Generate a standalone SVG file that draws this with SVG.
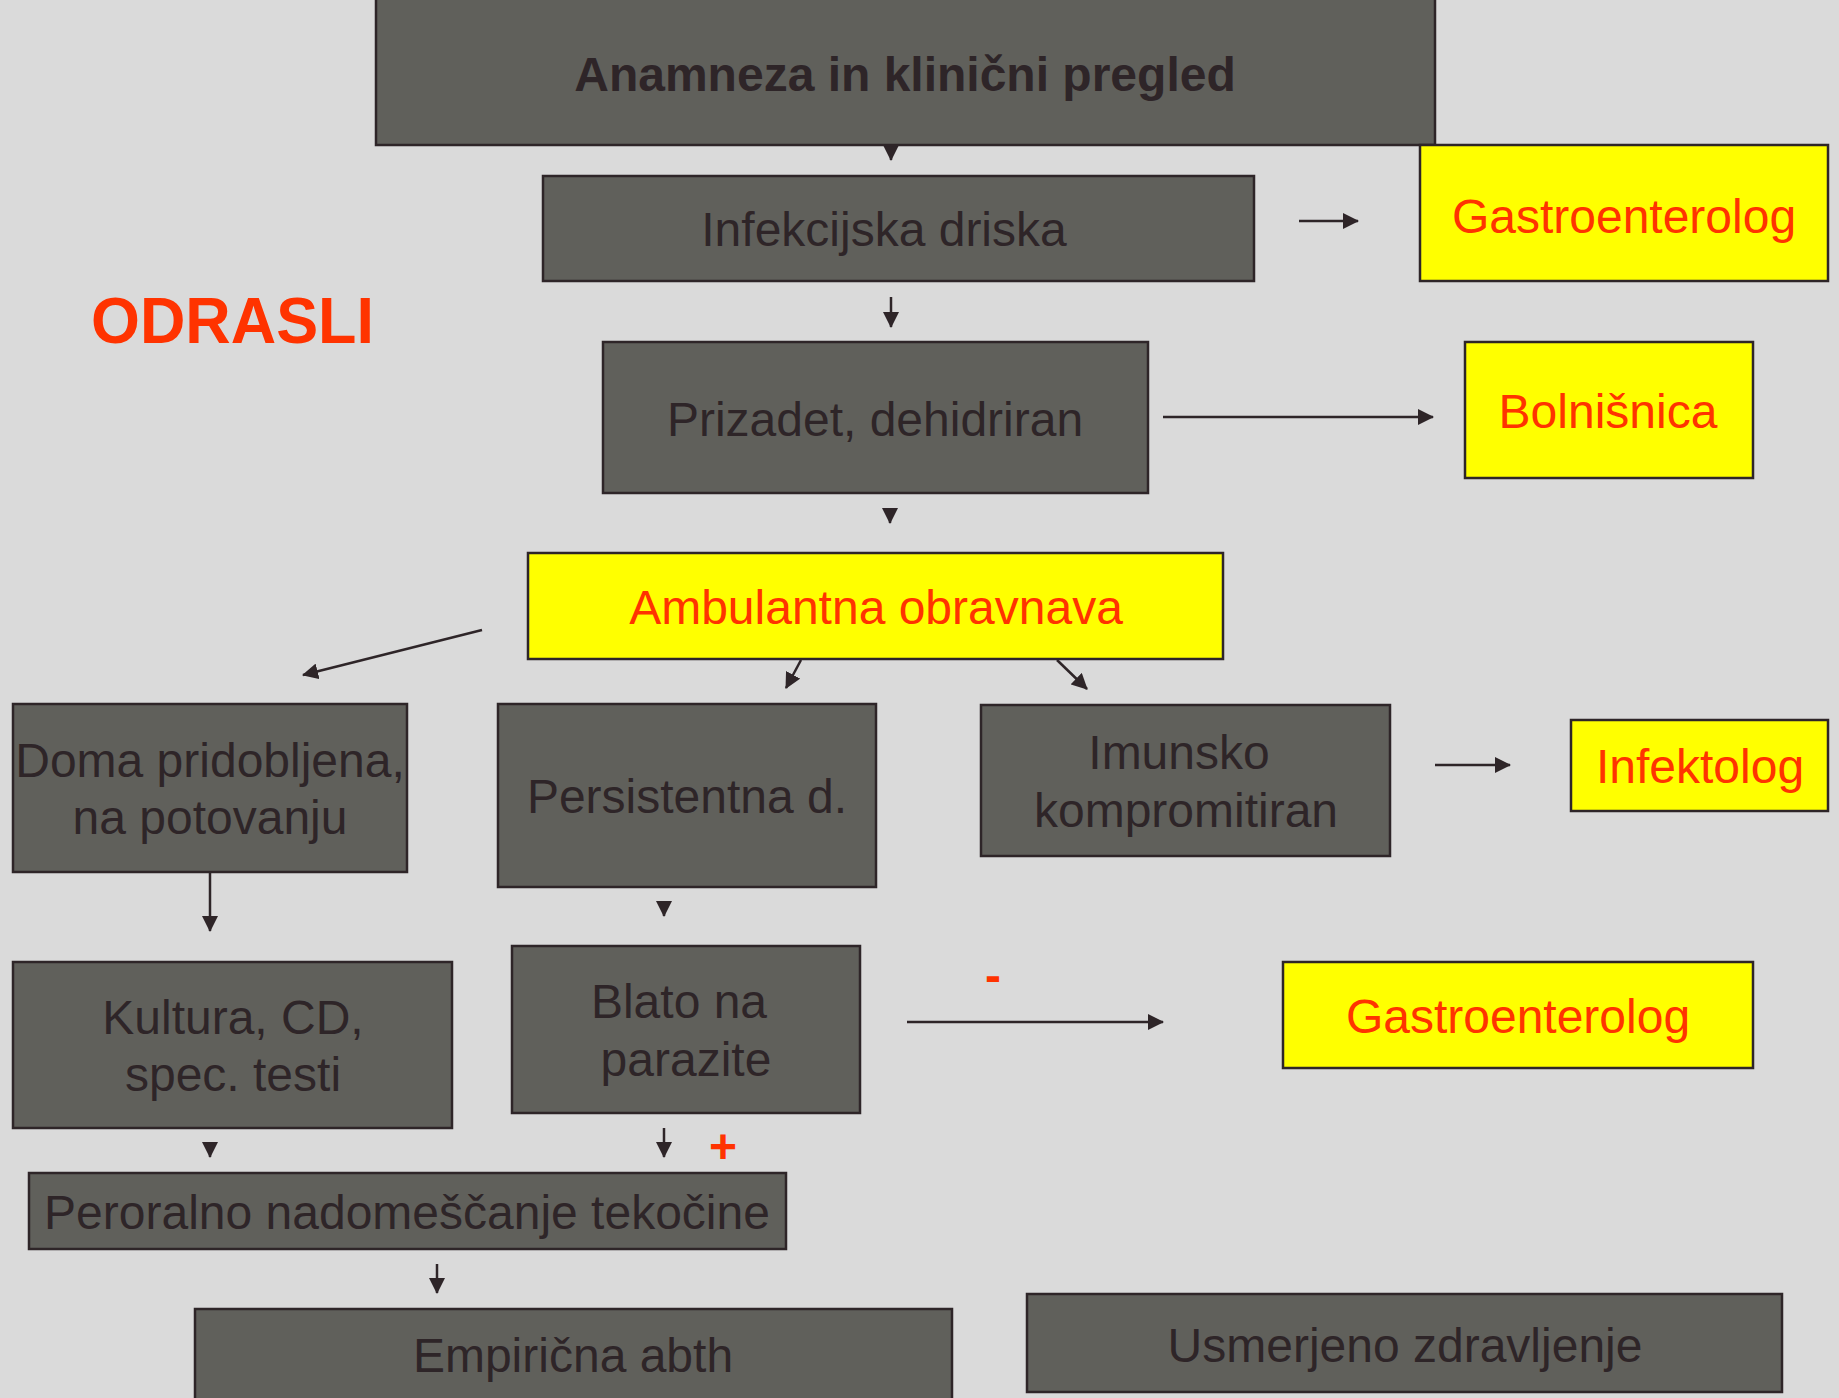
<svg xmlns="http://www.w3.org/2000/svg" width="1839" height="1398" viewBox="0 0 1839 1398">
<defs>
<style>
.g{fill:#60605B;stroke:#2E2528;stroke-width:2.5}
.y{fill:#FFFF00;stroke:#2E2528;stroke-width:2.5}
.t{font-family:"Liberation Sans",Arial,sans-serif;font-size:48px;fill:#2E2528;text-anchor:middle}
.r{font-family:"Liberation Sans",Arial,sans-serif;font-size:48px;fill:#FF3300;text-anchor:middle}
.c{stroke:#2E2528;stroke-width:2.5;fill:none;marker-end:url(#ah)}
</style>
<marker id="ah" markerUnits="userSpaceOnUse" markerWidth="16" markerHeight="16" refX="15" refY="8" orient="auto">
<path d="M0,0 L16,8 L0,16 Z" fill="#2E2528"/>
</marker>
</defs>
<rect width="1839" height="1398" fill="#DADADA"/>
<text x="91" y="343" font-family="Liberation Sans, Arial, sans-serif" font-size="64" font-weight="bold" fill="#FF3300" textLength="283" lengthAdjust="spacingAndGlyphs">ODRASLI</text>
<g id="connectors">
<line class="c" x1="891" y1="146" x2="891" y2="160"/>
<line class="c" x1="1299" y1="221" x2="1358" y2="221"/>
<line class="c" x1="891" y1="297" x2="891" y2="327"/>
<line class="c" x1="1163" y1="417" x2="1433" y2="417"/>
<line class="c" x1="890" y1="508" x2="890" y2="523"/>
<line class="c" x1="482" y1="630" x2="303" y2="675"/>
<line class="c" x1="801" y1="660" x2="786" y2="688"/>
<line class="c" x1="1057" y1="660" x2="1087" y2="689"/>
<line class="c" x1="1435" y1="765" x2="1510" y2="765"/>
<line class="c" x1="210" y1="872" x2="210" y2="931"/>
<line class="c" x1="664" y1="901" x2="664" y2="916"/>
<line class="c" x1="907" y1="1022" x2="1163" y2="1022"/>
<line class="c" x1="210" y1="1142" x2="210" y2="1157"/>
<line class="c" x1="664" y1="1128" x2="664" y2="1157"/>
<line class="c" x1="437" y1="1264" x2="437" y2="1293"/>
<text x="993" y="992" font-family="Liberation Sans, Arial, sans-serif" font-size="48" font-weight="bold" fill="#FF3300" text-anchor="middle">-</text>
<text x="723" y="1163" font-family="Liberation Sans, Arial, sans-serif" font-size="48" font-weight="bold" fill="#FF3300" text-anchor="middle">+</text>
</g>
<g id="n-anamneza"><rect class="g" x="376" y="-2" width="1059" height="147"/><text class="t" x="905" y="91" font-weight="bold">Anamneza in klinični pregled</text></g>
<g id="n-infekcijska"><rect class="g" x="543" y="176" width="711" height="105"/><text class="t" x="884" y="246">Infekcijska driska</text></g>
<g id="n-gastro1"><rect class="y" x="1420" y="145" width="408" height="136"/><text class="r" x="1624" y="233">Gastroenterolog</text></g>
<g id="n-prizadet"><rect class="g" x="603" y="342" width="545" height="151"/><text class="t" x="875" y="436">Prizadet, dehidriran</text></g>
<g id="n-bolnisnica"><rect class="y" x="1465" y="342" width="288" height="136"/><text class="r" x="1608" y="428">Bolnišnica</text></g>
<g id="n-ambulantna"><rect class="y" x="528" y="553" width="695" height="106"/><text class="r" x="876" y="624">Ambulantna obravnava</text></g>
<g id="n-doma"><rect class="g" x="13" y="704" width="394" height="168"/><text class="t" x="210" y="777">Doma pridobljena,</text><text class="t" x="210" y="834">na potovanju</text></g>
<g id="n-persistentna"><rect class="g" x="498" y="704" width="378" height="183"/><text class="t" x="687" y="813">Persistentna d.</text></g>
<g id="n-imunsko"><rect class="g" x="981" y="705" width="409" height="151"/><text class="t" x="1179" y="769">Imunsko</text><text class="t" x="1186" y="827">kompromitiran</text></g>
<g id="n-infektolog"><rect class="y" x="1571" y="720" width="257" height="91"/><text class="r" x="1700" y="783">Infektolog</text></g>
<g id="n-kultura"><rect class="g" x="13" y="962" width="439" height="166"/><text class="t" x="233" y="1034">Kultura, CD,</text><text class="t" x="233" y="1091">spec. testi</text></g>
<g id="n-blato"><rect class="g" x="512" y="946" width="348" height="167"/><text class="t" x="679" y="1018">Blato na</text><text class="t" x="686" y="1076">parazite</text></g>
<g id="n-gastro2"><rect class="y" x="1283" y="962" width="470" height="106"/><text class="r" x="1518" y="1033">Gastroenterolog</text></g>
<g id="n-peroral"><rect class="g" x="29" y="1173" width="757" height="76"/><text class="t" x="407" y="1229">Peroralno nadomeščanje tekočine</text></g>
<g id="n-empiricna"><rect class="g" x="195" y="1309" width="757" height="100"/><text class="t" x="573" y="1372">Empirična abth</text></g>
<g id="n-usmerjeno"><rect class="g" x="1027" y="1294" width="755" height="98"/><text class="t" x="1405" y="1362">Usmerjeno zdravljenje</text></g>
</svg>
